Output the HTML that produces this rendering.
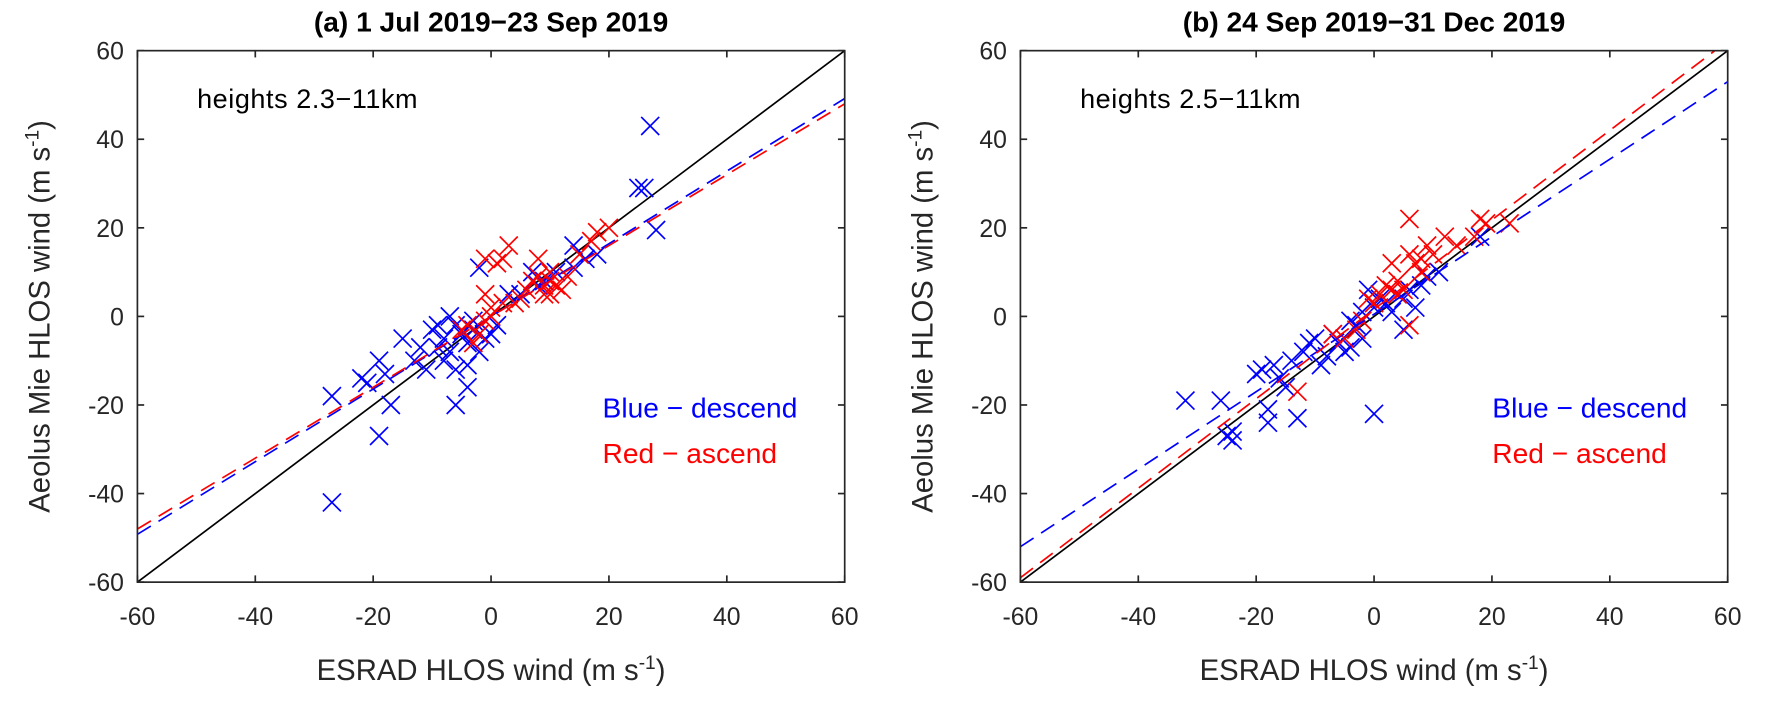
<!DOCTYPE html>
<html><head><meta charset="utf-8"><style>
body{margin:0;background:#fff;}
svg{display:block;font-family:"Liberation Sans",sans-serif;}
</style></head><body>
<svg id="chart" width="1766" height="706" viewBox="0 0 1568 627" preserveAspectRatio="none"></svg>
<script>
const ticks=[-60,-40,-20,0,20,40,60];
const titles=["(a)    1 Jul 2019\u221223 Sep 2019","(b)   24 Sep 2019\u221231 Dec 2019"];
const heightsLabels=["heights  2.3\u221211km","heights  2.5\u221211km"];
const blueA=[[27,43],[25,29],[26,29],[28,19.5],[-27,-42],[-19,-27],[-27,-18],[-17,-20],[-6,-20],[-4,-16],[-4,-11],[-22,-14],[-21,-15],[-19,-10],[-18,-13],[-15,-5],[-12,-7],[-10,-3],[-9,-2],[-8,-5],[-7,-8],[-6,-2],[-5,-4],[-4,-6],[-3,-3],[-2,-8],[-2,11],[-1,-5],[0,-4],[1,-2],[3,5],[5,5],[7,10],[9,8],[11,10],[14,11],[14,16],[16,13],[18,14],[-11,-12],[-8,-10],[-13,-10],[-6,-12],[-3,-1],[8,7],[-7,0],[-9,-7]];
const redA=[[-1,13],[1,12],[3,16],[2,13],[-1,5],[0,2],[2,3],[4,3],[5,4],[6,6],[8,13],[8,9],[9,7],[9,5],[10,8],[10,10],[11,7],[12,6],[13,9],[15,14],[17,17],[18,19],[20,20],[-4,-2],[-5,-3],[-3,-6],[-1,-1],[0,0],[7,8],[10,5],[-2,-4]];
const blueB=[[-32,-19],[-26,-19],[-25,-27],[-24,-26],[-24,-28],[-19,-12],[-18,-21],[-18,-24],[-17,-11],[-16,-14],[-15,-16],[-13,-23],[-12,-8],[-11,-6],[-10,-5],[-9,-11],[-8,-9],[-7,-4],[-6,-6],[-5,-8],[-4,-1],[-3,-2],[-2,-5],[-1,6],[0,-22],[0,2],[1,4],[2,3],[3,1],[4,5],[5,4],[6,6],[7,2],[8,7],[9,9],[11,10],[18,18],[-14,-10],[-20,-13],[-2,1],[-4,-7],[5,-3]];
const redB=[[-13,-17],[-7,-4],[-5,-5],[-3,-3],[-2,-1],[-1,4],[0,3],[1,5],[2,7],[3,12],[3,6],[4,5],[5,6],[6,22],[6,-2],[7,12],[8,10],[8,13],[9,16],[10,14],[12,18],[14,16],[17,18],[18,22],[19,21],[23,21],[6,14],[4,8]];
const fitsA=[[0.82,0],[0.8,0]];
const fitsB=[[0.875,0.5],[1.01,1.6]];
const NS="http://www.w3.org/2000/svg";
const svg=document.getElementById('chart');
function el(t,a,p){const e=document.createElementNS(NS,t);for(const k in a)e.setAttribute(k,a[k]);(p||svg).appendChild(e);return e;}
const panels=[{x0:122,blue:blueA,red:redA,fits:fitsA,lx:535},{x0:906,blue:blueB,red:redB,fits:fitsB,lx:1325}];
const W=628,T=45,H=472;
panels.forEach((p,i)=>{
  const g=el('g',{});
  
  
  const sx=v=>p.x0+(v+60)/120*W, sy=v=>T+H-(v+60)/120*H;
  const cp='clip'+i;
  const cl=el('clipPath',{id:cp},g);el('rect',{x:p.x0,y:T,width:W,height:H},cl);
  const data=el('g',{'clip-path':'url(#'+cp+')'},g);
  const one=el('line',{x1:sx(-60),y1:sy(-60),x2:sx(60),y2:sy(60),stroke:'#000','stroke-width':1.5},data);
  
  
  [['blue',p.blue],['red',p.red]].forEach(([c,pts],j)=>{
    pts.forEach(([x,y])=>{
      const m=el('path',{d:`M${sx(x)-8},${sy(y)-8}L${sx(x)+8},${sy(y)+8}M${sx(x)-8},${sy(y)+8}L${sx(x)+8},${sy(y)-8}`,stroke:c==='blue'?'#0000ff':'#ff0000','stroke-width':1.5,fill:'none'},data);
      
      
    });
  });
  p.fits.forEach(([s,b],j)=>{
    const f=el('line',{x1:sx(-60),y1:sy(-60*s+b),x2:sx(60),y2:sy(60*s+b),stroke:j?'#ff0000':'#0000ff','stroke-width':1.5,'stroke-dasharray':'14,8'},data);
    
    
  });
  el('rect',{x:p.x0,y:T,width:W,height:H,fill:'none',stroke:'#262626','stroke-width':1.5},g);
  ticks.forEach(t=>{
    el('line',{x1:sx(t),y1:T+H,x2:sx(t),y2:T+H-6,stroke:'#262626','stroke-width':1.5},g);
    el('line',{x1:sx(t),y1:T,x2:sx(t),y2:T+6,stroke:'#262626','stroke-width':1.5},g);
    el('line',{x1:p.x0,y1:sy(t),x2:p.x0+6,y2:sy(t),stroke:'#262626','stroke-width':1.5},g);
    el('line',{x1:p.x0+W,y1:sy(t),x2:p.x0+W-6,y2:sy(t),stroke:'#262626','stroke-width':1.5},g);
    const xt=el('text',{x:sx(t),y:555,'font-size':22,'text-anchor':'middle',fill:'#262626'},g);xt.textContent=t;
    
    const yt=el('text',{x:p.x0-12,y:sy(t)+8,'font-size':22,'text-anchor':'end',fill:'#262626'},g);yt.textContent=t;
    
  });
  const tt=el('text',{x:p.x0+W/2,y:28,'font-size':25,'font-weight':'bold','text-anchor':'middle','xml:space':'preserve'},g);tt.textContent=titles[i];
  
  const xl=el('text',{x:p.x0+W/2,y:604,'font-size':26,'text-anchor':'middle',fill:'#262626'},g);
  xl.innerHTML='ESRAD HLOS wind (m s<tspan dy="-10" font-size="17">-1</tspan><tspan dy="10">)</tspan>';
  
  const yx=p.x0-78, yy=T+H/2;
  const yl=el('text',{x:yx,y:yy,'font-size':26,'text-anchor':'middle',fill:'#262626',transform:`rotate(-90 ${yx} ${yy})`},g);
  yl.innerHTML='Aeolus Mie HLOS wind (m s<tspan dy="-10" font-size="17">-1</tspan><tspan dy="10">)</tspan>';
  
  const ht=el('text',{x:p.x0+53,y:96,'font-size':24,'xml:space':'preserve','letter-spacing':'0.5'},g);ht.textContent=heightsLabels[i];
  
  const lb=el('text',{x:p.lx,y:371,'font-size':25,fill:'#0000ff'},g);lb.textContent='Blue \u2212 descend';
  
  const lr=el('text',{x:p.lx,y:411,'font-size':25,fill:'#ff0000'},g);lr.textContent='Red \u2212 ascend';
  
});
</script>
</body></html>
